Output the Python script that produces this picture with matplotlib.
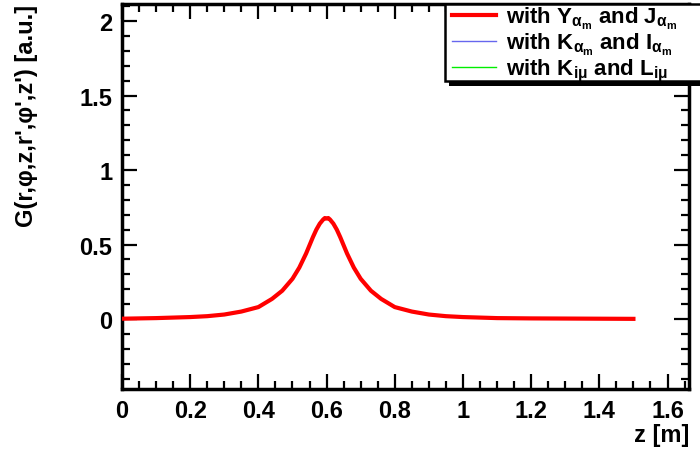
import matplotlib
matplotlib.use("Agg")
import matplotlib.pyplot as plt
from matplotlib.lines import Line2D
from matplotlib.patches import Rectangle

plt.rcParams['font.family'] = ['Liberation Sans', 'DejaVu Sans']
plt.rcParams['font.weight'] = 'bold'
plt.rcParams['mathtext.fontset'] = 'custom'
plt.rcParams['mathtext.rm'] = 'Liberation Sans:bold'
plt.rcParams['mathtext.it'] = 'Liberation Sans:bold'
plt.rcParams['mathtext.bf'] = 'Liberation Sans:bold'

# Green function along z (all three methods give the same curve)
z = [0.0, 0.1, 0.2, 0.25, 0.3, 0.35, 0.4, 0.44, 0.47, 0.5, 0.52, 0.54, 0.55, 0.56,
     0.57, 0.58, 0.59, 0.595, 0.6, 0.605, 0.61, 0.62, 0.63, 0.64, 0.65, 0.66, 0.68,
     0.7, 0.73, 0.76, 0.8, 0.85, 0.9, 0.95, 1.0, 1.1, 1.2, 1.3, 1.4, 1.5]
G = [0.002, 0.006, 0.013, 0.019, 0.03, 0.05, 0.08, 0.135, 0.19, 0.27, 0.345, 0.44,
     0.495, 0.55, 0.6, 0.64, 0.668, 0.678, 0.674, 0.678, 0.668, 0.64, 0.6, 0.55, 0.495,
     0.44, 0.345, 0.27, 0.19, 0.135, 0.08, 0.05, 0.03, 0.019, 0.013, 0.006, 0.004,
     0.003, 0.002, 0.001]

labels = [r"with Y$_{\alpha_m}$ and J$_{\alpha_m}$",
          r"with K$_{\alpha_m}$ and I$_{\alpha_m}$",
          r"with K$_{i\mu}$ and L$_{i\mu}$"]
colors = ['#ff0000', '#6666ee', '#00ee00']
widths = [3, 1, 1]

fig = plt.figure(figsize=(7, 4.6), dpi=100)
ax = fig.add_axes([122/700, 1-390/460, 567/700, 385/460])

ax.plot(z, G, color=colors[2], lw=widths[2], zorder=2)
ax.plot(z, G, color=colors[1], lw=widths[1], zorder=3)
ax.plot(z, G, color=colors[0], lw=widths[0], zorder=4)

ax.set_xlim(0, 1.663)
ax.set_ylim(-0.47, 2.115)
ax.set_xticks([0, 0.2, 0.4, 0.6, 0.8, 1, 1.2, 1.4, 1.6])
ax.set_xticklabels(['0', '0.2', '0.4', '0.6', '0.8', '1', '1.2', '1.4', '1.6'])
ax.set_yticks([0, 0.5, 1, 1.5, 2])
ax.set_yticklabels(['0', '0.5', '1', '1.5', '2'])
ax.set_xticks([i * 0.05 for i in range(34)], minor=True)
ax.set_yticks([-0.4 + i * 0.1 for i in range(26)], minor=True)

for s in ax.spines.values():
    s.set_linewidth(2.5)
ax.tick_params(which='both', direction='in', top=True, right=True, width=1.6,
               labelsize=17)
ax.tick_params(which='major', length=11)
ax.tick_params(which='minor', length=6)
ax.tick_params(axis='x', which='major', pad=7)
ax.tick_params(axis='y', which='major', pad=7)

ax.set_xlabel('z [m]', fontsize=17, fontweight='bold')
ax.xaxis.set_label_coords(1.0, -0.088)
ax.xaxis.label.set_ha('right')
ax.set_ylabel("G(r,φ,z,r',φ',z') [a.u.]", fontsize=17, fontweight='bold')
ax.yaxis.set_label_coords(-0.168, 1.0)
ax.yaxis.label.set_ha('right')
ax.yaxis.label.set_va('center')

# legend box (ROOT style, runs off the right edge) with black shadow
W, H = 700.0, 460.0
shadow = Rectangle((449/W, 1-87/H), 300/W, 82/H, transform=fig.transFigure,
                   facecolor='black', edgecolor='none', zorder=10)
box = Rectangle((445/W, 1-82/H), 300/W, 77/H, transform=fig.transFigure,
                facecolor='white', edgecolor='black', lw=1.8, zorder=11)
fig.patches.extend([shadow, box])

handles = [Line2D([], [], color=c, lw=w) for c, w in zip(colors, widths)]
leg = fig.legend(handles, labels, loc='upper left',
                 bbox_to_anchor=(452/W, 1-6/H), fontsize=16,
                 frameon=False, borderpad=0.0, labelspacing=0.0,
                 handlelength=2.0, handletextpad=0.45, borderaxespad=0)
leg.set_zorder(12)
for t in leg.get_texts():
    t.set_fontweight('bold')

fig.savefig('out.png', dpi=100)
